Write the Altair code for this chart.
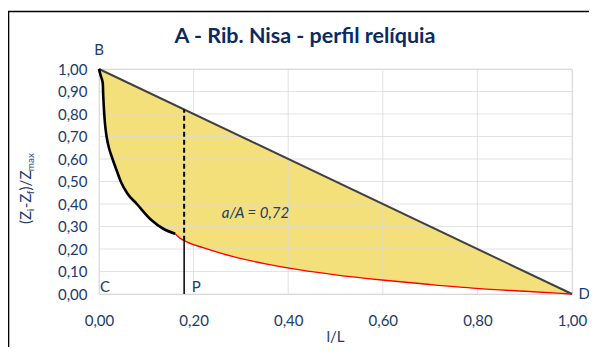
import altair as alt
import pandas as pd

# ---- data ----
curve_x = [0.000, 0.003, 0.006, 0.008, 0.009, 0.011, 0.013, 0.016, 0.021, 0.027, 0.037,
           0.046, 0.060, 0.080, 0.110, 0.136, 0.161]
curve_y = [1.000, 0.975, 0.955, 0.936, 0.880, 0.803, 0.750, 0.700, 0.650, 0.610, 0.551,
           0.500, 0.447, 0.400, 0.330, 0.290, 0.268]
tail_x = [0.161, 0.170, 0.180, 0.220, 0.284, 0.355, 0.425, 0.500, 0.598, 0.700, 0.798, 0.900, 1.000]
tail_y = [0.268, 0.250, 0.237, 0.206, 0.166, 0.133, 0.107, 0.085, 0.062, 0.042, 0.025, 0.012, 0.000]
chord_x = [0.0, 1.0]
chord_y = [1.0, 0.0]
p_x = 0.18
p_curve_y = 0.237
p_chord_y = 0.82
x_ticks = [0.0, 0.2, 0.4, 0.6, 0.8, 1.0]
y_ticks = [0.0, 0.1, 0.2, 0.3, 0.4, 0.5, 0.6, 0.7, 0.8, 0.9, 1.0]
top_label = ["B"]
top_lx = [0.0]
top_ly = [1.084]
side_labels = ["C", "P", "D"]
side_lx = [0.002, 0.196, 1.014]
side_ly = [0.03, 0.03, 0.0]
title_text = "A - Rib. Nisa - perfil relíquia"
ratio_text = "a/A = 0,72"
x_title = "l/L"

FONT = "Lato"
LABEL = "#203A6C"
TITLE = "#0C2A62"
W, H = 473, 225

# ---- tables ----
all_x = curve_x + tail_x[1:]
all_y = curve_y + tail_y[1:]
area_df = pd.DataFrame({"x": all_x, "lo": all_y, "hi": [1 - v for v in all_x]})
black_df = pd.DataFrame({"x": curve_x, "y": curve_y})
red_df = pd.DataFrame({"x": tail_x, "y": tail_y})
chord_df = pd.DataFrame({"x": chord_x, "y": chord_y})
xg_df = pd.DataFrame({"x": x_ticks})
yg_df = pd.DataFrame({"y": y_ticks})
dash_df = pd.DataFrame({"x": [p_x], "y": [p_curve_y], "y2": [p_chord_y]})
solid_df = pd.DataFrame({"x": [p_x], "y": [0.0], "y2": [p_curve_y]})
top_df = pd.DataFrame({"t": top_label, "x": top_lx, "y": top_ly})
side_df = pd.DataFrame({"t": side_labels, "x": side_lx, "y": side_ly})
one = pd.DataFrame({"k": [0]})

xs = alt.Scale(domain=[0, 1], nice=False, zero=False)
ys = alt.Scale(domain=[0, 1], nice=False, zero=False)
lab_expr = "replace(format(datum.value, '.2f'), '.', ',')"
x_axis = alt.Axis(values=x_ticks, labelExpr=lab_expr, grid=False, ticks=False,
                  domainColor="#D9D9D9", labelColor=LABEL, labelFont=FONT, labelFontSize=15,
                  labelPadding=19, labelFlush=False, labelOverlap=False, title=None)
y_axis = alt.Axis(values=y_ticks, labelExpr=lab_expr, grid=False, ticks=False, domain=False,
                  labelColor=LABEL, labelFont=FONT, labelFontSize=15, labelPadding=12,
                  labelFlush=False, labelOverlap=False, title=None)


def X(f):
    return alt.X(f"{f}:Q", scale=xs, axis=x_axis)


def Y(f):
    return alt.Y(f"{f}:Q", scale=ys, axis=y_axis)


area = alt.Chart(area_df).mark_area(color="#F4E07B", opacity=1, interpolate="monotone").encode(
    x=X("x"), y=Y("lo"), y2="hi:Q")
xgrid = alt.Chart(xg_df).mark_rule(color="#D9D9D9", strokeWidth=1, opacity=0.75).encode(x=X("x"))
ygrid = alt.Chart(yg_df).mark_rule(color="#D9D9D9", strokeWidth=1, opacity=0.75).encode(y=Y("y"))
chord = alt.Chart(chord_df).mark_line(color="#404040", strokeWidth=2).encode(x=X("x"), y=Y("y"))
red = alt.Chart(red_df).mark_line(color="#FF0000", strokeWidth=1.4, interpolate="monotone").encode(
    x=X("x"), y=Y("y"))
black = alt.Chart(black_df).mark_line(color="#000000", strokeWidth=2.6, interpolate="monotone").encode(
    x=X("x"), y=Y("y"))
dash = alt.Chart(dash_df).mark_rule(color="#000000", strokeWidth=2, strokeDash=[5, 3]).encode(
    x=X("x"), y=Y("y"), y2="y2:Q")
solid = alt.Chart(solid_df).mark_rule(color="#000000", strokeWidth=1.5).encode(
    x=X("x"), y=Y("y"), y2="y2:Q")
top_lab = alt.Chart(top_df).mark_text(font=FONT, fontSize=15, color=LABEL, baseline="middle",
                                      align="center").encode(x=X("x"), y=Y("y"), text="t:N")
side_lab = alt.Chart(side_df).mark_text(font=FONT, fontSize=15, color=LABEL, baseline="middle",
                                        align="left").encode(x=X("x"), y=Y("y"), text="t:N")
ratio = alt.Chart(one).mark_text(font=FONT, fontSize=15, fontStyle="italic", color=LABEL,
                                 baseline="middle", align="center").encode(
    x=alt.value(W * 0.331), y=alt.value(H * (1 - 0.361)), text=alt.value(ratio_text))

title = alt.Chart(one).mark_text(font=FONT, fontSize=21.5, fontWeight="bold", color=TITLE,
                                 baseline="middle", align="center").encode(
    x=alt.value(206), y=alt.value(-32), text=alt.value(title_text))
xtitle = alt.Chart(one).mark_text(font=FONT, fontSize=15, color=LABEL, baseline="middle",
                                  align="center").encode(
    x=alt.value(W / 2), y=alt.value(268), text=alt.value(x_title))

# y title built from pieces with subscripts (rotated)
pieces = [("(Z", False), ("i", True), ("-Z", False), ("f", True), (")/Z", False), ("max", True)]
offsets = [0, 12.8, 15.8, 29.8, 33.6, 52.8]
ytitle_layers = []
for (txt, sub), off in zip(pieces, offsets):
    ytitle_layers.append(
        alt.Chart(one).mark_text(font=FONT, fontSize=10 if sub else 15, color=LABEL,
                                 angle=270, align="left", baseline="middle",
                                 dy=5 if sub else 0).encode(
            x=alt.value(-73), y=alt.value(155 - off), text=alt.value(txt)))

frame = alt.Chart(one).mark_rect(fill="transparent", stroke="#000000", strokeWidth=1.6).encode(
    x=alt.value(-90.5), x2=alt.value(700), y=alt.value(-57.5), y2=alt.value(500))

chart = alt.layer(area, xgrid, ygrid, chord, red, black, dash, solid, top_lab, side_lab, ratio,
                  title, xtitle, *ytitle_layers, frame).properties(
    width=W, height=H,
    autosize=alt.AutoSizeParams(type="none"),
    padding={"left": 91, "top": 61, "right": 17, "bottom": 53},
).configure_view(stroke=None).configure(background="white")

chart.save("out.html", embed_options={"renderer": "svg", "actions": False})
